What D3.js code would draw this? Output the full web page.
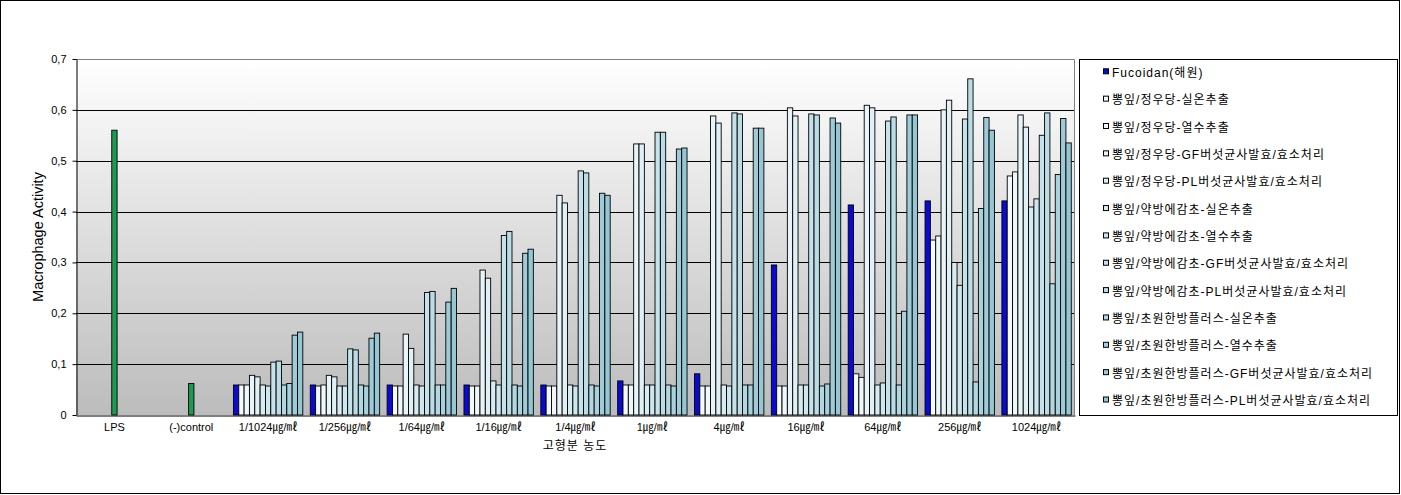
<!DOCTYPE html>
<html>
<head>
<meta charset="utf-8">
<script src="https://cdn.jsdelivr.net/npm/d3@7"></script>
<style>
  html, body { margin: 0; padding: 0; background: #fff; }
  svg text { font-family: "Liberation Sans", "Noto Sans CJK KR", sans-serif; fill: #000; }
</style>
</head>
<body>
<svg id="chart" width="1401" height="495"></svg>
<script>
// ---------------- data ----------------
const categories = ["LPS", "(-)control", "1/1024㎍/㎖", "1/256㎍/㎖", "1/64㎍/㎖", "1/16㎍/㎖", "1/4㎍/㎖",
  "1㎍/㎖", "4㎍/㎖", "16㎍/㎖", "64㎍/㎖", "256㎍/㎖", "1024㎍/㎖"];
const controlCategories = ["LPS", "(-)control"];
const controlValues = [0.56, 0.062];
const concentrations = categories.slice(2);

const seriesNames = [
  "Fucoidan(해원)",
  "뽕잎/정우당-실온추출",
  "뽕잎/정우당-열수추출",
  "뽕잎/정우당-GF버섯균사발효/효소처리",
  "뽕잎/정우당-PL버섯균사발효/효소처리",
  "뽕잎/약방에감초-실온추출",
  "뽕잎/약방에감초-열수추출",
  "뽕잎/약방에감초-GF버섯균사발효/효소처리",
  "뽕잎/약방에감초-PL버섯균사발효/효소처리",
  "뽕잎/초원한방플러스-실온추출",
  "뽕잎/초원한방플러스-열수추출",
  "뽕잎/초원한방플러스-GF버섯균사발효/효소처리",
  "뽕잎/초원한방플러스-PL버섯균사발효/효소처리"
];
// values per concentration (1/1024 ... 1024 ㎍/㎖)
const fucoidan   = [0.059, 0.059, 0.059, 0.059, 0.059, 0.067, 0.081, 0.295, 0.413, 0.421, 0.421];
const jwdRoom    = [0.059, 0.057, 0.057, 0.057, 0.057, 0.059, 0.057, 0.057, 0.081, 0.344, 0.470];
const jwdHot     = [0.059, 0.059, 0.057, 0.057, 0.057, 0.059, 0.057, 0.057, 0.074, 0.352, 0.478];
const jwdGF      = [0.078, 0.078, 0.159, 0.285, 0.432, 0.533, 0.588, 0.604, 0.609, 0.600, 0.590];
const jwdPL      = [0.075, 0.075, 0.131, 0.269, 0.417, 0.533, 0.574, 0.588, 0.604, 0.619, 0.566];
const ybRoom     = [0.059, 0.057, 0.059, 0.067, 0.059, 0.059, 0.059, 0.059, 0.059, 0.300, 0.409];
const ybHot      = [0.057, 0.057, 0.057, 0.059, 0.057, 0.059, 0.057, 0.059, 0.063, 0.255, 0.425];
const ybGF       = [0.104, 0.130, 0.241, 0.353, 0.480, 0.556, 0.594, 0.592, 0.578, 0.582, 0.550];
const ybPL       = [0.106, 0.128, 0.243, 0.361, 0.476, 0.556, 0.592, 0.590, 0.586, 0.661, 0.594];
const cwRoom     = [0.059, 0.059, 0.059, 0.059, 0.059, 0.059, 0.059, 0.057, 0.059, 0.065, 0.258];
const cwHot      = [0.062, 0.057, 0.059, 0.057, 0.057, 0.057, 0.059, 0.061, 0.204, 0.406, 0.473];
const cwGF       = [0.157, 0.151, 0.222, 0.318, 0.436, 0.523, 0.564, 0.584, 0.590, 0.585, 0.583];
const cwPL       = [0.163, 0.161, 0.249, 0.326, 0.432, 0.525, 0.564, 0.574, 0.590, 0.560, 0.535];
const seriesValues = [fucoidan, jwdRoom, jwdHot, jwdGF, jwdPL, ybRoom, ybHot, ybGF, ybPL, cwRoom, cwHot, cwGF, cwPL];

const yTicks = [0, 0.1, 0.2, 0.3, 0.4, 0.5, 0.6, 0.7];
const yTickLabels = ["0", "0,1", "0,2", "0,3", "0,4", "0,5", "0,6", "0,7"];

const seriesColors = ["#0a0ad2", "#f4fafc", "#eef7fa", "#e8f4f8", "#e1f0f5", "#d7ebf1", "#cee6ed",
  "#c5e1e9", "#bcdce5", "#b2d7e1", "#a8d1dc", "#9ecbd7", "#94c6d3"];
const controlColor = "#1c9a52";

// ---------------- layout ----------------
const svg = d3.select("#chart");
const plot = { left: 76, top: 59, right: 1075, bottom: 415 };

svg.append("rect").attr("x", 0.5).attr("y", 0.5).attr("width", 1399).attr("height", 493)
  .attr("fill", "#fff").attr("stroke", "#000");

const defs = svg.append("defs");
const grad = defs.append("linearGradient").attr("id", "bg").attr("x1", 0).attr("y1", 0).attr("x2", 0).attr("y2", 1);
grad.append("stop").attr("offset", "0%").attr("stop-color", "#ffffff");
grad.append("stop").attr("offset", "100%").attr("stop-color", "#bcbcbc");

const x0 = d3.scaleBand().domain(categories).range([plot.left, plot.right]).paddingInner(0).paddingOuter(0);
const x1 = d3.scaleBand().domain(d3.range(seriesNames.length)).range([0, x0.bandwidth()]).paddingInner(0).paddingOuter(0.7);
const y = d3.scaleLinear().domain([0, 0.7]).range([plot.bottom, plot.top]);

svg.append("rect").attr("x", plot.left).attr("y", plot.top)
  .attr("width", plot.right - plot.left).attr("height", plot.bottom - plot.top)
  .attr("fill", "url(#bg)");

// gridlines
svg.append("g").selectAll("line").data(yTicks.filter(d => d > 0 && d < 0.7)).join("line")
  .attr("x1", plot.left).attr("x2", plot.right)
  .attr("y1", d => Math.round(y(d)) + 0.5).attr("y2", d => Math.round(y(d)) + 0.5)
  .attr("stroke", "#000").attr("stroke-width", 1);

// plot border top/right (gray)
svg.append("path")
  .attr("d", `M${plot.left},${Math.round(plot.top) + 0.5}H${plot.right - 0.5}V${plot.bottom}`)
  .attr("fill", "none").attr("stroke", "#808080");

// bars
const barData = [];
concentrations.forEach((c, ci) => {
  seriesValues.forEach((vals, si) => {
    barData.push({ cat: c, s: si, v: vals[ci] });
  });
});
svg.append("g").selectAll("rect").data(barData).join("rect")
  .attr("x", d => x0(d.cat) + x1(d.s))
  .attr("y", d => y(d.v))
  .attr("width", x1.bandwidth())
  .attr("height", d => y(0) - y(d.v))
  .attr("fill", d => seriesColors[d.s])
  .attr("stroke", "#000").attr("stroke-width", 0.9);

// control bars (centered)
const midIdx = Math.floor(seriesNames.length / 2);
svg.append("g").selectAll("rect").data(controlCategories.map((c, i) => ({ cat: c, v: controlValues[i] }))).join("rect")
  .attr("x", d => x0(d.cat) + x1(midIdx))
  .attr("y", d => y(d.v))
  .attr("width", x1.bandwidth())
  .attr("height", d => y(0) - y(d.v))
  .attr("fill", controlColor)
  .attr("stroke", "#000").attr("stroke-width", 0.9);

// y axis
const yAxis = d3.axisLeft(y).tickValues(yTicks).tickFormat((d, i) => yTickLabels[i]).tickSizeInner(4).tickSizeOuter(0).tickPadding(6);
const gy = svg.append("g").attr("transform", `translate(${plot.left + 0.5},0)`).call(yAxis);
gy.select(".domain").attr("stroke", "#000");
gy.selectAll(".tick line").attr("stroke", "#000");
gy.selectAll("text").attr("font-size", 11).style("font-family", '"Liberation Sans", sans-serif');

// x axis
const xAxis = d3.axisBottom(x0).tickSize(0).tickPadding(8);
const gx = svg.append("g").attr("transform", `translate(0,${plot.bottom + 0.5})`).call(xAxis);
gx.select(".domain").attr("stroke", "#000");
gx.selectAll("text").attr("font-size", 11);

// axis titles
svg.append("text").attr("transform", `translate(43,237) rotate(-90)`)
  .attr("text-anchor", "middle").attr("font-size", 14.5).text("Macrophage Activity");
svg.append("text").attr("x", 575).attr("y", 450).attr("text-anchor", "middle")
  .attr("font-size", 12).attr("letter-spacing", 1).text("고형분 농도");

// legend
const lg = svg.append("g");
lg.append("rect").attr("x", 1079.5).attr("y", 59.5).attr("width", 318).attr("height", 356)
  .attr("fill", "#fff").attr("stroke", "#000");
const rowY = d3.scalePoint().domain(d3.range(seriesNames.length)).range([72.3, 400.5]);
const items = lg.selectAll("g.item").data(seriesNames).join("g").attr("class", "item")
  .attr("transform", (d, i) => `translate(0,${rowY(i)})`);
items.append("rect").attr("x", 1103.5).attr("y", -3.5).attr("width", 5).attr("height", 5)
  .attr("fill", (d, i) => seriesColors[i]).attr("stroke", "#000").attr("stroke-width", 1);
items.append("text").attr("x", 1112).attr("y", 4.5).attr("font-size", 12).attr("letter-spacing", 1).text(d => d);
</script>
</body>
</html>
